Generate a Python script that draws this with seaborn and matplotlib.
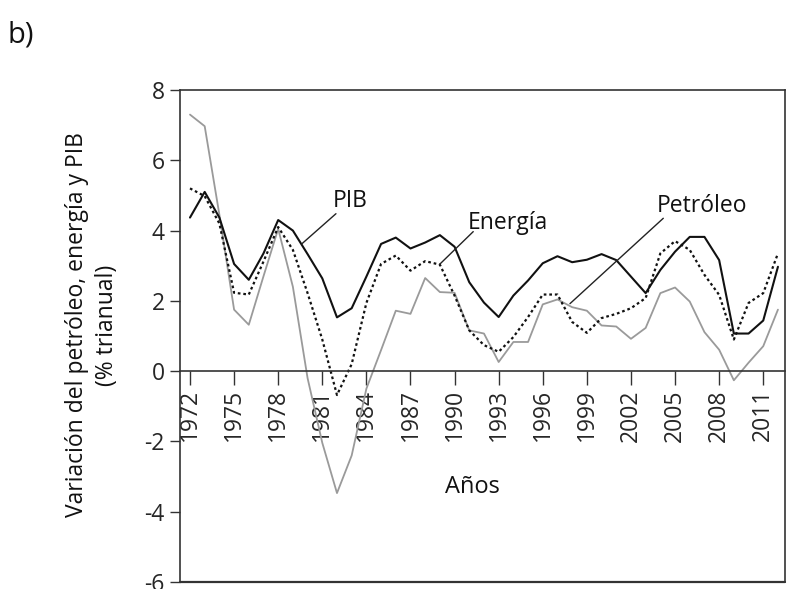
import numpy as np
import pandas as pd
import matplotlib
matplotlib.use("Agg")
import matplotlib.pyplot as plt
import seaborn as sns
from matplotlib.lines import Line2D

years = list(range(1972, 2013))
pib = [4.37, 5.10, 4.37, 3.05, 2.60, 3.35, 4.30, 4.00, 3.33, 2.64,
       1.53, 1.79, 2.69, 3.62, 3.80, 3.49, 3.66, 3.87, 3.54, 2.53,
       1.95, 1.54, 2.15, 2.58, 3.07, 3.27, 3.10, 3.17, 3.33, 3.16,
       2.69, 2.22, 2.88, 3.40, 3.82, 3.82, 3.16, 1.07, 1.07, 1.44, 2.97]
energia = [5.20, 4.98, 4.20, 2.23, 2.18, 3.12, 4.10, 3.45, 2.22, 0.90,
           -0.68, 0.20, 1.94, 3.05, 3.29, 2.86, 3.13, 3.03, 2.15, 1.16,
           0.74, 0.55, 0.97, 1.54, 2.18, 2.18, 1.40, 1.09, 1.51, 1.63,
           1.79, 2.08, 3.35, 3.70, 3.45, 2.74, 2.17, 0.90, 1.94, 2.22, 3.35]
petroleo = [7.30, 6.97, 4.45, 1.75, 1.32, 2.70, 4.05, 2.40, -0.20, -2.04,
            -3.47, -2.40, -0.50, 0.60, 1.72, 1.63, 2.65, 2.25, 2.23, 1.16,
            1.07, 0.26, 0.83, 0.83, 1.90, 2.04, 1.82, 1.72, 1.30, 1.27,
            0.92, 1.23, 2.22, 2.38, 1.98, 1.11, 0.61, -0.26, 0.24, 0.71, 1.75]
xtick_years = list(range(1972, 2012, 3))
ytick_vals = [-6, -4, -2, 0, 2, 4, 6, 8]

sns.set_style("white")
plt.rcParams['font.family'] = ['Open Sans', 'DejaVu Sans']

df = pd.DataFrame({"year": years, "PIB": pib, "Energía": energia, "Petróleo": petroleo})

fig = plt.figure(figsize=(7.87, 5.89), dpi=100)
ax = fig.add_axes([180/787, 1-582/589, (785-180)/787, (582-90)/589])

sns.lineplot(data=df, x="year", y="Petróleo", ax=ax, color="#9a9a9a", lw=1.3)
sns.lineplot(data=df, x="year", y="Energía", ax=ax, color="#111111", lw=1.6, linestyle=(0, (1.2, 1.3)))
sns.lineplot(data=df, x="year", y="PIB", ax=ax, color="#111111", lw=1.5)

ax.set_xlim(1971.32, 2012.48)
ax.set_ylim(-6, 8)
ax.set_xlabel("")
ax.set_ylabel("")

for s in ax.spines.values():
    s.set_color("#333333")
    s.set_linewidth(1.2)
ax.spines['bottom'].set_position(('data', 0))
ax.add_line(Line2D([0, 1], [0, 0], transform=ax.transAxes, color="#333333", lw=1.6, clip_on=False))

ax.set_xticks(xtick_years)
ax.set_xticklabels([str(y) for y in xtick_years], rotation=90, fontsize=16.5)
ax.set_yticks(ytick_vals)
ax.set_yticklabels([str(v) for v in ytick_vals], fontsize=16.5)
ax.tick_params(axis='x', direction='out', length=10, width=1, color="#333333", pad=3, bottom=True)
ax.tick_params(axis='y', direction='out', length=7, width=1, color="#333333", pad=4, left=True)

def annot(label, tx, ty, x0, y0, x1, y1):
    ax.annotate("", xy=(x1, y1), xytext=(x0, y0),
                arrowprops=dict(arrowstyle='-', color="#222222", lw=1.0, shrinkA=0, shrinkB=0))
    ax.text(tx, ty, label, ha='center', va='center', fontsize=16.5, color="#111111")

annot("PIB", 1982.9, 4.84, 1981.93, 4.48, 1979.6, 3.62)
annot("Energía", 1993.6, 4.22, 1991.27, 3.97, 1988.96, 3.03)
annot("Petróleo", 2006.83, 4.70, 2004.2, 4.35, 1997.85, 1.92)

ax.text(1991.2, -3.31, "Años", ha='center', va='center', fontsize=17, color="#111111")

fig.text(92/787, 1-325/589, "Variación del petróleo, energía y PIB\n(% trianual)",
         rotation=90, ha='center', va='center', multialignment='center',
         fontsize=16.5, color="#111111", linespacing=1.3)
fig.text(21/787, 1-35/589, "b)", ha='center', va='center', fontsize=21, color="#111111")

fig.savefig("out.png", dpi=100)
